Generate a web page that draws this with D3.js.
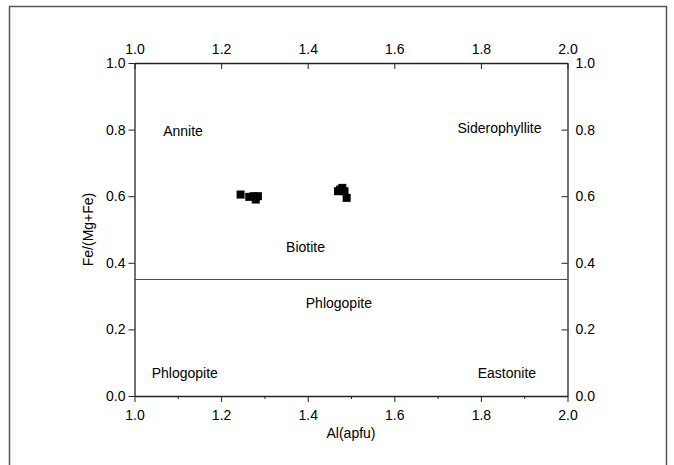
<!DOCTYPE html>
<html>
<head>
<meta charset="utf-8">
<script src="https://cdn.jsdelivr.net/npm/d3@7"></script>
<style>
  body { margin: 0; background: #fff; }
  svg text { font-family: "Liberation Sans", Arial, sans-serif; fill: #000; }
</style>
</head>
<body>
<svg id="chart" width="674" height="465"></svg>
<script>
// Biotite compositions: Al (apfu) vs Fe/(Mg+Fe)
const alApfu = [1.245, 1.265, 1.275, 1.28, 1.285, 1.47, 1.475, 1.48, 1.485, 1.49];
const feRatio = [0.605, 0.598, 0.60, 0.59, 0.60, 0.615, 0.62, 0.625, 0.615, 0.595];

const xTicks = [1.0, 1.2, 1.4, 1.6, 1.8, 2.0];
const xMinorTicks = [1.1, 1.3, 1.5, 1.7, 1.9];
const yTicks = [0.0, 0.2, 0.4, 0.6, 0.8, 1.0];

// Field names and their anchor positions in data units
const fieldNames = ["Annite", "Siderophyllite", "Biotite", "Phlogopite", "Phlogopite", "Eastonite"];
const fieldX = [1.112, 1.843, 1.395, 1.472, 1.116, 1.86];
const fieldY = [0.796, 0.805, 0.447, 0.28, 0.07, 0.07];

const boundaryY = 0.35;

const svg = d3.select("#chart");
const plotL = 134.5, plotR = 567.5, plotT = 63, plotB = 396;

const x = d3.scaleLinear().domain([1.0, 2.0]).range([plotL, plotR]);
const y = d3.scaleLinear().domain([0.0, 1.0]).range([plotB, plotT]);

// Outer frame
svg.append("rect")
  .attr("x", 9.5).attr("y", 6.5).attr("width", 657).attr("height", 470)
  .attr("fill", "none").attr("stroke", "#555").attr("stroke-width", 1.5);

const fmt = d3.format(".1f");
const fontSize = "14px";

function styleAxis(g) {
  g.select(".domain").attr("stroke", "#222").attr("stroke-width", 1.3);
  g.selectAll(".tick line").attr("stroke", "#222").attr("stroke-width", 1);
  g.selectAll(".tick text").style("font-size", fontSize).style("font-family", "Liberation Sans, Arial, sans-serif").attr("fill", "#000");
}

// Bottom axis: outward ticks with minor marks
svg.append("g")
  .attr("transform", `translate(0,${plotB})`)
  .call(d3.axisBottom(x).tickValues(xMinorTicks).tickSize(3).tickFormat(""))
  .call(g => { g.select(".domain").remove(); g.selectAll(".tick line").attr("stroke", "#222"); });
svg.append("g")
  .attr("transform", `translate(0,${plotB})`)
  .call(d3.axisBottom(x).tickValues(xTicks).tickSize(6).tickSizeOuter(0).tickPadding(8).tickFormat(fmt))
  .call(styleAxis);

// Top axis: inward ticks, labels above
const topAxis = svg.append("g")
  .attr("transform", `translate(0,${plotT})`)
  .call(d3.axisTop(x).tickValues(xTicks).tickSize(-6).tickSizeOuter(0).tickFormat(fmt))
  .call(styleAxis);
topAxis.selectAll(".tick text").attr("y", -9);

// Left axis: outward ticks
svg.append("g")
  .attr("transform", `translate(${plotL},0)`)
  .call(d3.axisLeft(y).tickValues(yTicks).tickSize(6).tickSizeOuter(0).tickPadding(3).tickFormat(fmt))
  .call(styleAxis);

// Right axis: inward ticks, labels outside
const rightAxis = svg.append("g")
  .attr("transform", `translate(${plotR},0)`)
  .call(d3.axisRight(y).tickValues(yTicks).tickSize(-6).tickSizeOuter(0).tickFormat(fmt))
  .call(styleAxis);
rightAxis.selectAll(".tick text").attr("x", 8);

// Axis titles
svg.append("text")
  .attr("x", (plotL + plotR) / 2).attr("y", 438)
  .attr("text-anchor", "middle").style("font-size", fontSize)
  .text("Al(apfu)");
svg.append("text")
  .attr("transform", `translate(93,${(plotT + plotB) / 2}) rotate(-90)`)
  .attr("text-anchor", "middle").style("font-size", fontSize)
  .text("Fe/(Mg+Fe)");

// Biotite / phlogopite boundary
svg.append("line")
  .attr("x1", x(1.0)).attr("x2", x(2.0))
  .attr("y1", y(boundaryY)).attr("y2", y(boundaryY))
  .attr("stroke", "#444").attr("stroke-width", 1);

// Field labels
svg.selectAll("text.field")
  .data(fieldNames)
  .join("text")
  .attr("class", "field")
  .attr("x", (d, i) => x(fieldX[i]))
  .attr("y", (d, i) => y(fieldY[i]))
  .attr("dy", "0.35em")
  .attr("text-anchor", "middle")
  .style("font-size", fontSize)
  .text(d => d);

// Sample points as filled squares
const s = 8;
svg.selectAll("rect.pt")
  .data(alApfu)
  .join("rect")
  .attr("class", "pt")
  .attr("x", d => x(d) - s / 2)
  .attr("y", (d, i) => y(feRatio[i]) - s / 2)
  .attr("width", s).attr("height", s)
  .attr("fill", "#000");
</script>
</body>
</html>
